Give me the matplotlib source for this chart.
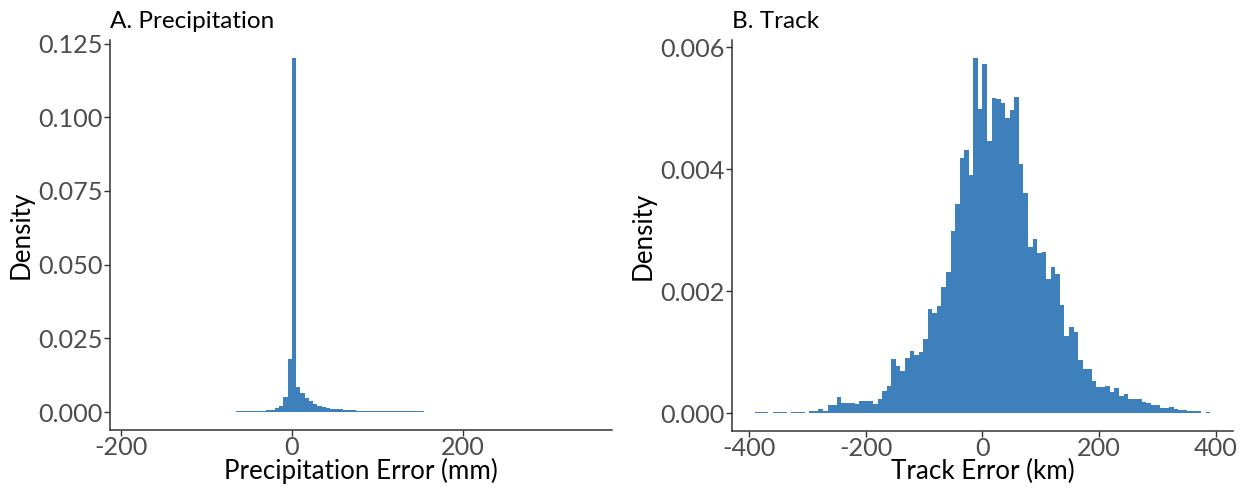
# Two-panel density histograms: precipitation error and track error.
import matplotlib
matplotlib.use("Agg")
import matplotlib.pyplot as plt
import numpy as np

plt.rcParams["font.family"] = ["Lato", "DejaVu Sans"]
plt.rcParams["axes.unicode_minus"] = False

BAR_COLOR = "#3d80bb"
TICK_GRAY = "#4d4d4d"
AXIS_GRAY = "#333333"

# --- A. Precipitation: 5 mm bins starting at -185 mm ---
precip_start = -185
precip_binwidth = 5
precip_density = [
    # -185 .. -150
    0.00002, 0.00002, 0.00002, 0.00002, 0.00002, 0.00002, 0.00002,
    # -150 .. -100
    0.00004, 0.00004, 0.00005, 0.00005, 0.00005, 0.00006, 0.00006, 0.00007, 0.00008, 0.00009,
    # -100 .. -75
    0.0001, 0.00011, 0.00012, 0.00013, 0.00014,
    # -75 .. -50
    0.00016, 0.00018, 0.0002, 0.00022, 0.00025,
    # -50 .. 0
    0.0003, 0.00034, 0.0004, 0.0005, 0.0006, 0.0008, 0.0012, 0.0021, 0.0051, 0.018,
    # 0 .. 75
    0.1201, 0.0084, 0.0063, 0.0046, 0.0037, 0.0028, 0.0020, 0.0016, 0.0012, 0.0011,
    0.0010, 0.0009, 0.0008, 0.0007, 0.0007,
    # 75 .. 110
    0.0005, 0.00048, 0.00045, 0.00043, 0.0004, 0.00038, 0.00035,
    # 110 .. 160
    0.00032, 0.0003, 0.00028, 0.00026, 0.00025, 0.00023, 0.00022, 0.0002, 0.00019, 0.00018,
    # 160 .. 200
    0.00016, 0.00015, 0.00014, 0.00013, 0.00012, 0.00011, 0.0001, 0.0001,
    # 200 .. 250
    0.00009, 0.00008, 0.00008, 0.00007, 0.00007, 0.00006, 0.00006, 0.00005, 0.00005, 0.00005,
    # 250 .. 300
    0.00004, 0.00004, 0.00004, 0.00004, 0.00004, 0.00003, 0.00003, 0.00003, 0.00003, 0.00003,
    # 300 .. 350
    0.00002, 0.00002, 0.00002, 0.00002, 0.00002, 0.00002, 0.00002, 0.00002, 0.00002, 0.00002,
]
precip_xticks = [-200, 0, 200]
precip_yticks = [0.000, 0.025, 0.050, 0.075, 0.100, 0.125]

# --- B. Track: 100 bins of 7.8 km from -390 km ---
track_start = -390
track_binwidth = 7.8
track_density = [
    0.000012, 0.000012, 0.000012, 0.0, 0.000012, 0.000012, 0.000012, 0.0, 0.000012, 0.000012,
    0.000012, 0.0, 0.000038, 0.000038, 0.00006, 0.000027, 0.000131, 0.000131, 0.000257, 0.000158,
    0.000158, 0.000169, 0.000148, 0.000202, 0.000202, 0.000202, 0.000148, 0.000224, 0.000355, 0.000443,
    0.000891, 0.00077, 0.000683, 0.000907, 0.001022, 0.000945, 0.001, 0.001208, 0.0017, 0.001645,
    0.001754, 0.002066, 0.002311, 0.002984, 0.003421, 0.004175, 0.004311, 0.003907, 0.005825, 0.004978,
    0.005716, 0.004464, 0.005159, 0.005142, 0.005087, 0.004842, 0.004967, 0.005175, 0.004082, 0.003601,
    0.002727, 0.002847, 0.002628, 0.002645, 0.002197, 0.002388, 0.002279, 0.00177, 0.001268, 0.001404,
    0.001333, 0.000869, 0.000716, 0.000716, 0.000525, 0.000432, 0.000432, 0.000443, 0.00035, 0.000404,
    0.000279, 0.000311, 0.000235, 0.000224, 0.000224, 0.000186, 0.000158, 0.000137, 0.000137, 0.000082,
    0.000082, 0.000104, 0.00006, 0.000044, 0.000044, 0.000033, 0.000038, 0.000027, 0.0, 0.000012,
]
track_xticks = [-400, -200, 0, 200, 400]
track_yticks = [0.000, 0.002, 0.004, 0.006]


def style_axes(ax):
    for side in ("top", "right"):
        ax.spines[side].set_visible(False)
    for side in ("left", "bottom"):
        ax.spines[side].set_color(AXIS_GRAY)
        ax.spines[side].set_linewidth(1.1)
    ax.tick_params(axis="both", direction="out", length=4, width=1.0,
                   color=AXIS_GRAY, labelcolor=TICK_GRAY, labelsize=18.2)
    ax.tick_params(axis="x", pad=0.5)
    ax.tick_params(axis="y", pad=1.5)


def draw_hist(ax, start, binwidth, density):
    lefts = start + binwidth * np.arange(len(density))
    ax.bar(lefts, density, width=binwidth, align="edge", color=BAR_COLOR, linewidth=0)


fig = plt.figure(figsize=(12.48, 4.91), dpi=100)
ax1 = fig.add_axes([0.0881, 0.1242, 0.4022, 0.7943])
ax2 = fig.add_axes([0.5865, 0.1222, 0.4014, 0.7963])

draw_hist(ax1, precip_start, precip_binwidth, precip_density)
ax1.set_xlim(-213, 375)
ax1.set_ylim(-0.0061, 0.1262)
ax1.set_xticks(precip_xticks)
ax1.set_yticks(precip_yticks)
ax1.set_yticklabels([f"{v:.3f}" for v in precip_yticks])
ax1.set_xlabel("Precipitation Error (mm)", fontsize=18.7, labelpad=-1)
ax1.set_ylabel("Density", fontsize=18.7, labelpad=3)
ax1.set_title("A. Precipitation", loc="left", fontsize=17.5, pad=9)
style_axes(ax1)

draw_hist(ax2, track_start, track_binwidth, track_density)
ax2.set_xlim(-429, 429)
ax2.set_ylim(-0.000295, 0.006115)
ax2.set_xticks(track_xticks)
ax2.set_yticks(track_yticks)
ax2.set_yticklabels([f"{v:.3f}" for v in track_yticks])
ax2.set_xlabel("Track Error (km)", fontsize=18.7, labelpad=-1)
ax2.set_ylabel("Density", fontsize=18.7, labelpad=3)
ax2.set_title("B. Track", loc="left", fontsize=17.5, pad=9)
style_axes(ax2)

fig.savefig("out.png", dpi=100)
